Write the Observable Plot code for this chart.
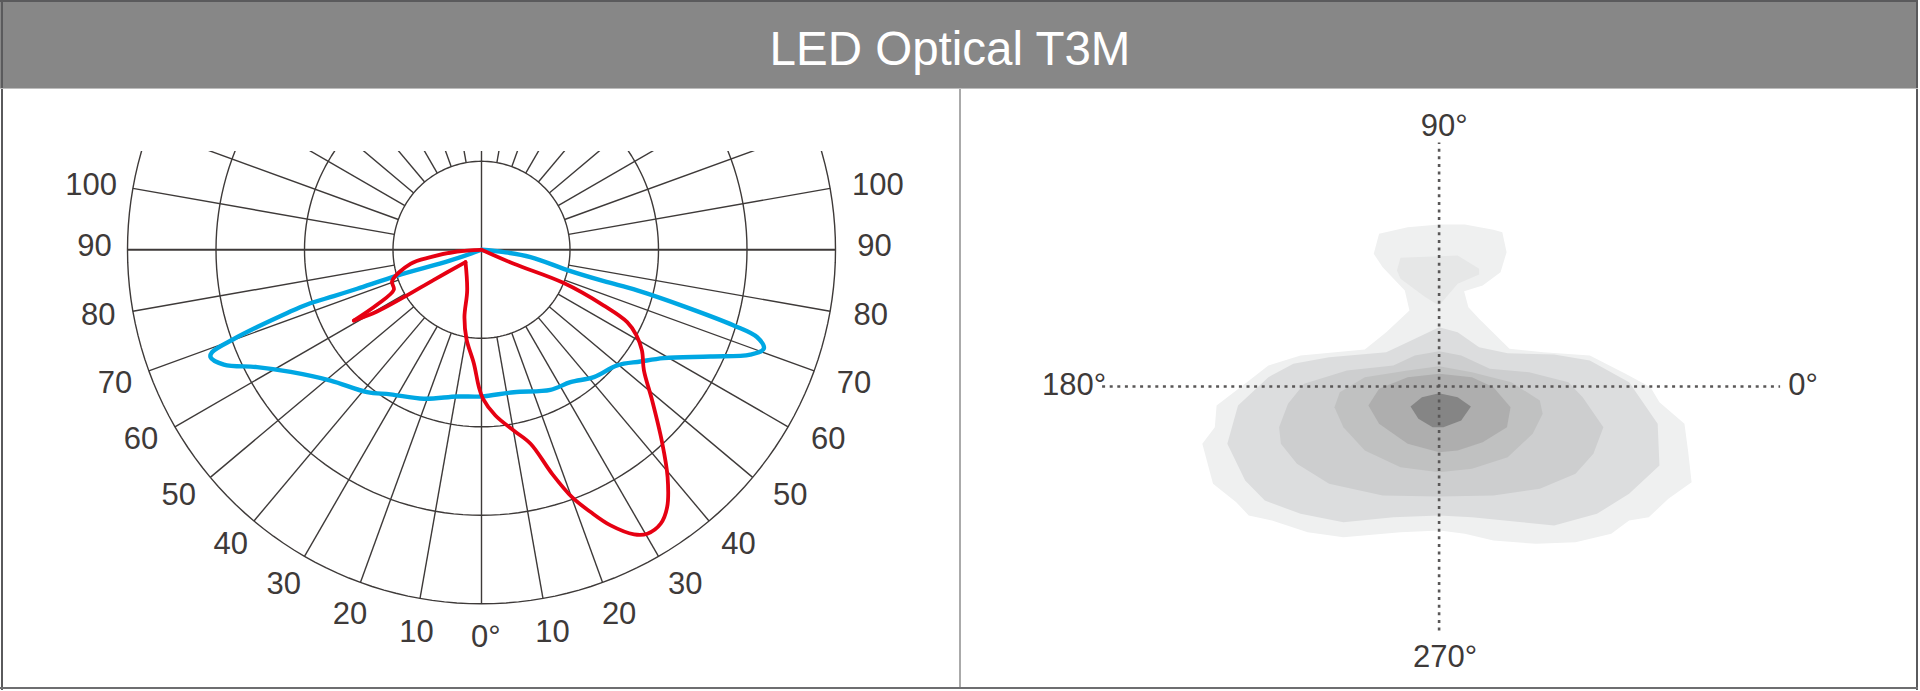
<!DOCTYPE html>
<html><head><meta charset="utf-8">
<script src="https://cdn.jsdelivr.net/npm/d3@7"></script>
<script src="https://cdn.jsdelivr.net/npm/@observablehq/plot@0.6"></script>
<style>
html,body{margin:0;padding:0;background:#fff;}
#frame{position:relative;width:1920px;height:691px;overflow:hidden;font-family:"Liberation Sans",Arial,sans-serif;}
#title{position:absolute;left:0;top:2px;width:1918px;height:86px;background:#878787;color:#fff;font-size:47.5px;line-height:94px;text-align:center;text-indent:-18px;}
#panels{position:absolute;left:0;top:88px;display:flex;width:1920px;height:603px;}
#panels svg{display:block;}
.edge{position:absolute;background:#5a5a5c;}
#divider{position:absolute;left:959px;top:88px;width:2px;height:600px;background:#aaaaaa;}
</style></head><body>
<div id="frame"><div id="title">LED Optical T3M</div><div id="panels"></div><div id="divider"></div>
<div class="edge" style="left:0;top:0;width:1918px;height:2px"></div>
<div class="edge" style="left:1px;top:0;width:2px;height:690px"></div>
<div class="edge" style="left:1916px;top:0;width:2px;height:690px"></div>
<div class="edge" style="left:0;top:687px;width:1918px;height:2px;background:#6e6e70"></div>
<div class="edge" style="left:0;top:88px;width:1918px;height:1px;background:#bdbdbd"></div>
</div>
<script>
// polar chart: [angle from nadir in degrees, value]; ring spacing is 100 units
const redMain = [[0,0],[66.6,39.8],[68,100.3],[65.5,151.9],[63.6,183.8],[61.1,200],[57.9,214],[53.4,228.6],[48.6,257],[43.2,298],[39.3,332],[35.8,358.6],[33.2,369.8],[30.3,371.5],[28.2,364.8],[25.1,343.9],[22.6,321],[20.1,297.6],[17.5,265.4],[14.2,226],[10.1,207.4],[4.8,187.9],[0.6,168.4],[-1.1,155],[-3.8,129],[-9.6,102],[-14.2,78.5],[-19.4,48.7],[-52.4,22.8]];
const redFlank = [[-52.4,22.8],[-57.8,63.6],[-58.6,102.8],[-59.4,137],[-61,164.9]];
const redReturn = [[-61,164.9],[-62.3,133],[-65.5,108.9],[-70.7,107],[-78.8,81.8],[-81.8,58.2],[-86,27.6],[0,0]];
const blueCurve = [[0,0],[-71,37],[-73,99.6],[-72.6,147.2],[-72.6,174.9],[-72.6,206.5],[-72,230.8],[-71,268.1],[-70.2,297.4],[-69.2,325.6],[-68.4,329.3],[-66,318.7],[-62.4,286],[-57.4,256],[-49.1,225.6],[-38.8,206.3],[-32.2,193],[-21.2,180.5],[-9.4,168],[0,165.7],[12.8,165],[26.2,176.4],[33.9,180.2],[41.4,191.9],[49.6,201.4],[54.9,219.5],[59.3,239.7],[65,285.4],[68.7,326],[70.7,338],[72.4,326.7],[73.3,297.6],[74.4,237.5],[75.4,181.8],[75.6,142.7],[76.5,103.4],[81.5,56],[84,25.4],[0,0]];
const rings = [100,200,300,400];
const spokeAngles = [10,20,30,40,50,60,70,80,100,110,120,130,140,150,160,170];
const angleLabels = [10,20,30,40,50,60,70,80,90,100];
const labelAngle = [10.1,20.3,31,40.8,51.3,61.1,70.1,80.4,90.6,99.4];
const labelRadius = [438.4,438.4,440.3,439,442.7,443.5,444,442.6,440.7,450.6];

// isolux map: contour levels, [x, y]
const isoLevels = [
 {fill:"#eff0f0",pts:[[808,72],[880,72],[960,88],[985,95],[997,155],[980,215],[930,255],[878,272],[890,320],[920,355],[1005,445],[1100,455],[1230,465],[1330,520],[1400,560],[1425,605],[1495,670],[1505,750],[1515,845],[1450,895],[1395,950],[1340,960],[1290,1000],[1190,1025],[1080,1030],[960,1020],[880,1000],[810,990],[700,995],[540,1010],[440,995],[340,960],[275,945],[240,905],[175,850],[145,730],[180,680],[185,615],[270,545],[330,495],[420,465],[600,447],[660,395],[725,330],[712,270],[650,200],[625,160],[640,100],[720,80]]},
 {fill:"#e6e7e7",pts:[[700,172],[860,165],[920,205],[920,222],[860,250],[808,315],[770,290],[700,235],[690,210]]},
 {fill:"#dcddde",pts:[[808,380],[860,395],[920,440],[1000,458],[1130,462],[1230,480],[1340,545],[1420,670],[1425,795],[1340,880],[1250,940],[1130,975],[1040,965],[900,950],[808,945],[680,950],[540,965],[420,940],[320,900],[265,840],[215,730],[245,615],[330,530],[400,490],[500,470],[660,455],[730,420]]},
 {fill:"#cdcecf",pts:[[808,452],[870,465],[950,505],[1060,515],[1170,545],[1210,590],[1268,680],[1240,760],[1190,820],[1090,865],[960,885],[808,888],[650,885],[500,850],[410,790],[365,730],[360,680],[385,610],[430,550],[550,510],[680,495],[740,465]]},
 {fill:"#c0c1c1",pts:[[808,497],[900,515],[1010,545],[1090,600],[1098,640],[1070,700],[1000,770],[900,805],[808,815],[700,800],[600,750],[540,680],[515,620],[530,575],[600,530],[720,510]]},
 {fill:"#aeaeae",pts:[[808,520],[900,530],[960,560],[1008,620],[998,680],[930,725],[860,750],[808,755],[720,730],[640,670],[610,615],[640,565],[720,530]]},
 {fill:"#858585",pts:[[808,578],[860,590],[897,618],[870,660],[820,680],[790,680],[750,655],[728,618],[760,590]]}
];
const dirLabels = ["90°","270°","180°","0°"];
const dirX = [5,6,-365,364];
const dirY = [260,-271,1,1];

const ink="#3e3a39";
const rad=d=>d*Math.PI/180;
const px=(a,r)=>r*Math.sin(rad(a));
const py=(a,r)=>r*Math.cos(rad(a));
const K=0.885; // px per unit
const W=960,H=603,TOP=63,cx=481,cy=249.3-88;
const circle=r=>d3.range(0,361,2).map(a=>[a,r]);
const X=d=>px(d[0],d[1]), Y=d=>-py(d[0],d[1]);
const textOpts={fontSize:31,fill:ink,fontFamily:"Liberation Sans",textAnchor:"middle"};
const labelRows=angleLabels.flatMap((l,i)=>[
  {t:String(l),a:labelAngle[i],r:labelRadius[i],s:1},
  {t:String(l),a:labelAngle[i],r:labelRadius[i],s:-1}]);

const left=Plot.plot({
 width:W,height:H,marginTop:TOP,marginRight:0,marginBottom:0,marginLeft:0,
 x:{domain:[-cx/K,(W-cx)/K],range:[0,W],axis:null},
 y:{domain:[-(H-cy)/K,(cy-TOP)/K],range:[H,TOP],axis:null},
 marks:[
  ...rings.map(r=>Plot.line(circle(r),{x:X,y:Y,stroke:ink,strokeWidth:1.4,clip:true})),
  Plot.link(spokeAngles.flatMap(a=>[a,-a]),{x1:a=>px(a,100),y1:a=>-py(a,100),x2:a=>px(a,400),y2:a=>-py(a,400),stroke:ink,strokeWidth:1.4,clip:true}),
  Plot.link([0],{x1:()=>-400,x2:()=>400,y1:()=>0,y2:()=>0,stroke:ink,strokeWidth:2}),
  Plot.link([0],{x1:()=>0,x2:()=>0,y1:()=>-400,y2:()=>130,stroke:ink,strokeWidth:1.4,clip:true}),
  Plot.line(blueCurve,{x:X,y:Y,stroke:"#00a7e3",strokeWidth:4.4,curve:"catmull-rom"}),
  ...[redMain,redFlank,redReturn].map(seg=>Plot.line(seg,{x:X,y:Y,stroke:"#e60012",strokeWidth:3.8,curve:"catmull-rom"})),
  Plot.text(labelRows,{x:d=>d.s*px(d.a,d.r)+3.4,y:d=>-py(d.a,d.r),text:d=>d.t,...textOpts}),
  Plot.text(["0°"],{x:[5],y:[-438],text:d=>d,...textOpts})
 ]
});

const ox=808,oy=558,sx=2.8,sy=3;
const rightX=1438.6-960, rightY=386-88;
const right=Plot.plot({
 width:W,height:H,margin:0,
 x:{domain:[-rightX,W-rightX],range:[0,W],axis:null},
 y:{domain:[rightY-H,rightY],range:[H,0],axis:null},
 marks:[
  ...isoLevels.map(l=>Plot.line(l.pts,{x:d=>(d[0]-ox)/sx,y:d=>(oy-d[1])/sy,fill:l.fill,stroke:"none"})),
  Plot.link([0],{x1:()=>-337,x2:()=>341,y1:()=>0,y2:()=>0,stroke:"#595757",strokeWidth:2.6,strokeDasharray:"3 4.6"}),
  Plot.link([0],{x1:()=>0,x2:()=>0,y1:()=>-244,y2:()=>244,stroke:"#595757",strokeWidth:2.6,strokeDasharray:"3 4.6"}),
  Plot.text(dirLabels,{x:(d,i)=>dirX[i],y:(d,i)=>dirY[i],text:d=>d,...textOpts})
 ]
});
document.getElementById("panels").append(left,right);
</script></body></html>
